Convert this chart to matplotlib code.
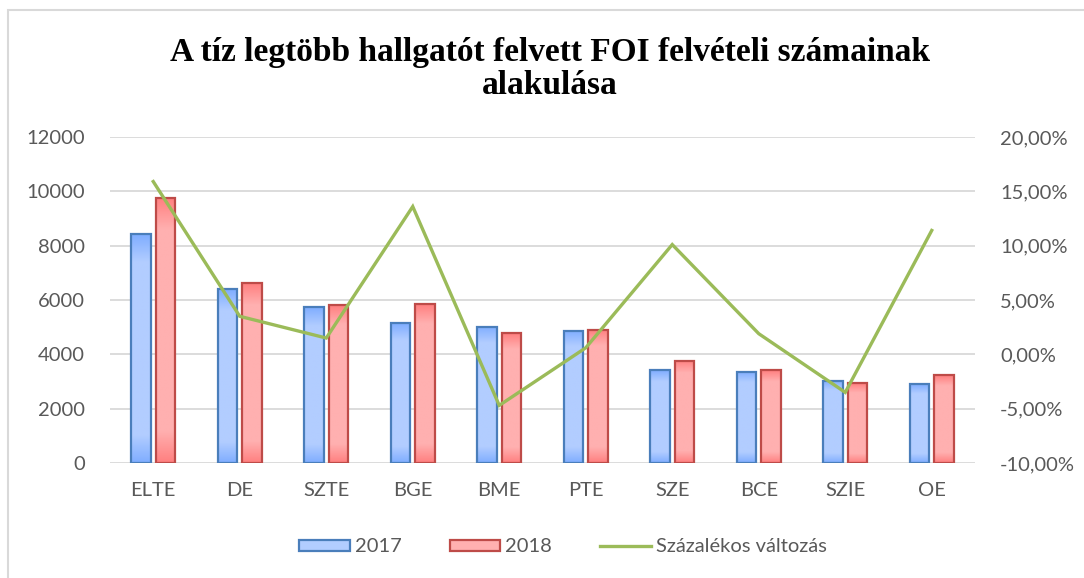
import numpy as np
import matplotlib.pyplot as plt
from matplotlib.patches import Patch, Rectangle
from matplotlib.lines import Line2D
from matplotlib.colors import LinearSegmentedColormap
from matplotlib.ticker import FuncFormatter, MultipleLocator

# adatok
intezmenyek = ['ELTE', 'DE', 'SZTE', 'BGE', 'BME', 'PTE', 'SZE', 'BCE', 'SZIE', 'OE']
felvett_2017 = [8420, 6390, 5740, 5150, 5010, 4870, 3420, 3360, 3030, 2900]
felvett_2018 = [9760, 6610, 5810, 5850, 4780, 4900, 3770, 3420, 2930, 3230]
valtozas = [15.9, 3.5, 1.5, 13.6, -4.7, 0.6, 10.1, 1.9, -3.5, 11.4]

szurke = '#595959'
betu = 'Lato'
meret = 14.5

def szinatmenet(ax, oszlopok, sotet, vilagos):
    cmap = LinearSegmentedColormap.from_list('g', [(0, sotet), (0.12, vilagos), (0.88, vilagos), (1, sotet)])
    grad = np.linspace(0, 1, 256).reshape(-1, 1)
    for b in oszlopok:
        x, y = b.get_x(), b.get_y()
        w, h = b.get_width(), b.get_height()
        im = ax.imshow(grad, cmap=cmap, extent=(x, x + w, y, y + h), aspect='auto',
                       origin='lower', zorder=1.9, interpolation='bilinear')
        im.set_clip_path(b)

fig = plt.figure(figsize=(10.84, 5.78), dpi=100)
ax = fig.add_axes([110 / 1084, 1 - 463 / 578, 865 / 1084, 326 / 578])
ax2 = ax.twinx()

x = np.arange(len(intezmenyek))
sz = 0.23
b1 = ax.bar(x - 0.142, felvett_2017, sz, facecolor='none', edgecolor='#4A7EBB', linewidth=1.6, zorder=2)
b2 = ax.bar(x + 0.142, felvett_2018, sz, facecolor='none', edgecolor='#BE4B48', linewidth=1.6, zorder=2)
szinatmenet(ax, b1, '#7FADFF', '#B2CDFF')
szinatmenet(ax, b2, '#FF7F7F', '#FFB0B0')

ax2.plot(x, valtozas, color='#9BBB59', linewidth=2.4, solid_joinstyle='miter')

ax.set_xlim(-0.5, len(intezmenyek) - 0.5)
ax.set_ylim(0, 12000)
ax.yaxis.set_major_locator(MultipleLocator(2000))
ax2.set_ylim(-10, 20)
ax2.yaxis.set_major_locator(MultipleLocator(5))
ax2.yaxis.set_major_formatter(FuncFormatter(lambda v, p: f'{v:.2f}'.replace('.', ',') + '%'))

ax.grid(axis='y', color='#D9D9D9', linewidth=1.3)
ax.set_axisbelow(True)
for a in (ax, ax2):
    for s in a.spines.values():
        s.set_visible(False)
    a.tick_params(length=0, labelcolor=szurke, labelsize=meret)
    for t in a.get_xticklabels() + a.get_yticklabels():
        t.set_family(betu)
ax.tick_params(axis='y', pad=18)
ax2.tick_params(axis='y', pad=18)
ax.tick_params(axis='x', pad=14)
ax.set_xticks(x)
ax.set_xticklabels(intezmenyek, family=betu)

fig.text(550 / 1084, 1 - 69 / 578, 'A tíz legtöbb hallgatót felvett FOI felvételi számainak\nalakulása',
         ha='center', va='center', family='Liberation Serif', weight='bold', fontsize=24,
         linespacing=1.08)

kezelok = [Patch(facecolor='#B2CDFF', edgecolor='#4A7EBB', linewidth=1.6),
           Patch(facecolor='#FFB0B0', edgecolor='#BE4B48', linewidth=1.6),
           Line2D([], [], color='#9BBB59', linewidth=2.4)]
fig.legend(kezelok, ['2017', '2018', 'Százalékos változás'], loc='center',
           bbox_to_anchor=(563 / 1084, 1 - 547 / 578), ncol=3, frameon=False,
           prop={'family': betu, 'size': meret}, labelcolor=szurke,
           handlelength=2.5, handleheight=0.5, handletextpad=0.25, columnspacing=2.4)

fig.add_artist(Rectangle((8 / 1084, -0.05), 1.1, 1 - 10 / 578 + 0.05, transform=fig.transFigure,
                         fill=False, edgecolor='#D9D9D9', linewidth=1.5))

fig.savefig('out.png', dpi=100)
